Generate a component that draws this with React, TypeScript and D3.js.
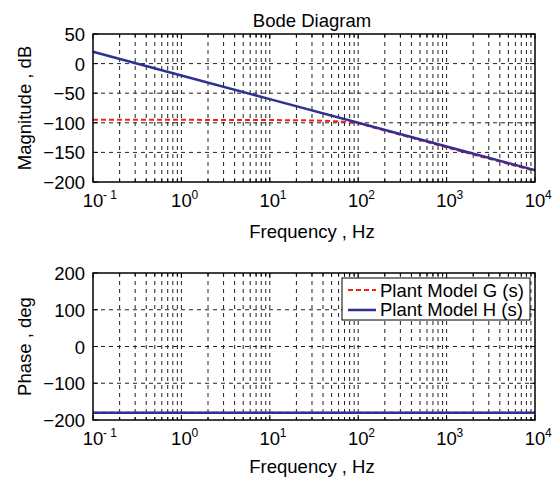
import React from 'react'
import * as d3 from 'd3'

// frequency samples (Hz)
const freqH = [0.1, 1, 10, 100, 1000, 10000]
const magH = [20, -20, -60, -100, -140, -180]
const freqG = [0.1, 1, 10, 30, 60, 100, 200, 1000, 10000]
const magG = [-95, -95, -95.3, -96, -97.5, -101, -113, -141.5, -181.5]
const phaseH = [-180, -180, -180, -180, -180, -180]
const phaseG = [-180, -180, -180, -180, -180, -180, -180, -180, -180]

const decades = [-1, 0, 1, 2, 3, 4]
const magTicks = [50, 0, -50, -100, -150, -200]
const phaseTicks = [200, 100, 0, -100, -200]
const legendLabels = ['Plant Model G (s)', 'Plant Model H (s)']

const FONT = 'Liberation Sans, Arial, sans-serif'
const FS = 18.5
const W = 554
const H = 478
const left = 93
const right = 535
const RED = '#ff1a1a'
const BLUE = '#2e3192'

function minorFreqs() {
  const out: number[] = []
  for (let d = -1; d < 4; d++) {
    for (let k = 2; k <= 9; k++) out.push(k * Math.pow(10, d))
  }
  return out
}

function Panel(props: {
  top: number
  bottom: number
  domain: [number, number]
  ticks: number[]
  ylabel: string
  gVals: number[]
  hVals: number[]
  xlabelGap: number
  title?: string
  legend?: boolean
}) {
  const { top, bottom, domain, ticks, ylabel, gVals, hVals, xlabelGap, title, legend } = props
  const x = d3.scaleLog().domain([0.1, 10000]).range([left, right])
  const y = d3.scaleLinear().domain(domain).range([bottom, top])
  const minors = minorFreqs()
  const lineG = d3.line<number>().x((d, i) => x(freqG[i])).y((d) => y(d))
  const lineH = d3.line<number>().x((d, i) => x(freqH[i])).y((d) => y(d))
  const dash = '4,4'
  return (
    <g>
      {title && (
        <text x={312} y={top - 7} textAnchor="middle" fontSize={FS} fontFamily={FONT}>
          {title}
        </text>
      )}
      <rect x={left} y={top} width={right - left} height={bottom - top} fill="white" />
      {/* grid */}
      {minors.concat(decades.slice(1, -1).map((d) => Math.pow(10, d))).map((f, i) => (
        <line key={'v' + i} x1={x(f)} x2={x(f)} y1={top} y2={bottom} stroke="#222" strokeWidth={1} strokeDasharray={dash} />
      ))}
      {ticks.slice(1, -1).map((t) => (
        <line key={'h' + t} x1={left} x2={right} y1={y(t)} y2={y(t)} stroke="#222" strokeWidth={1} strokeDasharray={dash} />
      ))}
      {/* ticks */}
      {decades.map((d) => (
        <g key={'t' + d}>
          <line x1={x(Math.pow(10, d))} x2={x(Math.pow(10, d))} y1={bottom} y2={bottom - 5} stroke="#000" />
          <line x1={x(Math.pow(10, d))} x2={x(Math.pow(10, d))} y1={top} y2={top + 5} stroke="#000" />
        </g>
      ))}
      {minors.map((f, i) => (
        <g key={'m' + i}>
          <line x1={x(f)} x2={x(f)} y1={bottom} y2={bottom - 3} stroke="#000" />
          <line x1={x(f)} x2={x(f)} y1={top} y2={top + 3} stroke="#000" />
        </g>
      ))}
      {ticks.map((t) => (
        <g key={'yt' + t}>
          <line x1={left} x2={left + 5} y1={y(t)} y2={y(t)} stroke="#000" />
          <line x1={right} x2={right - 5} y1={y(t)} y2={y(t)} stroke="#000" />
          <text x={left - 8} y={y(t) + 7} textAnchor="end" fontSize={FS} fontFamily={FONT}>
            {t < 0 ? '\u2212' + Math.abs(t) : t}
          </text>
        </g>
      ))}
      {decades.map((d) => (
        <g key={'xl' + d}>
          <text x={x(Math.pow(10, d))} y={bottom + 25} textAnchor="middle" fontSize={FS} fontFamily={FONT}>
            10
          </text>
          <text x={x(Math.pow(10, d)) + 10} y={bottom + 17} fontSize={12} fontFamily={FONT}>
            {d < 0 ? '- 1' : d}
          </text>
        </g>
      ))}
      {/* data */}
      <path d={lineG(gVals) || ''} fill="none" stroke={RED} strokeWidth={2} strokeDasharray="5,3" />
      <path d={lineH(hVals) || ''} fill="none" stroke={BLUE} strokeWidth={2.5} />
      <rect x={left} y={top} width={right - left} height={bottom - top} fill="none" stroke="#000" strokeWidth={1.5} />
      <text
        transform={`translate(31, ${(top + bottom) / 2}) rotate(-90)`}
        textAnchor="middle"
        fontSize={FS}
        fontFamily={FONT}
      >
        {ylabel}
      </text>
      <text x={312} y={bottom + xlabelGap} textAnchor="middle" fontSize={FS} fontFamily={FONT}>
        Frequency , Hz
      </text>
      {legend && (
        <g>
          <rect x={342} y={278} width={188} height={42} fill="white" stroke="#000" strokeWidth={1} />
          {legendLabels.map((l, i) => (
            <g key={l}>
              <line
                x1={348}
                x2={376}
                y1={290 + i * 20}
                y2={290 + i * 20}
                stroke={i === 0 ? RED : BLUE}
                strokeWidth={i === 0 ? 2 : 2.5}
                strokeDasharray={i === 0 ? '5,3' : undefined}
              />
              <text x={380} y={297 + i * 19} fontSize={FS} fontFamily={FONT}>
                {l}
              </text>
            </g>
          ))}
        </g>
      )}
    </g>
  )
}

export default function App() {
  return (
    <svg width={W} height={H} style={{ position: 'absolute', left: 0, top: 0, background: 'white' }}>
      <rect width={W} height={H} fill="white" />
      <Panel top={34} bottom={182} domain={[-200, 50]} ticks={magTicks} ylabel="Magnitude , dB" gVals={magG} hVals={magH} xlabelGap={56} title="Bode Diagram" />
      <Panel top={273} bottom={420} domain={[-200, 200]} ticks={phaseTicks} ylabel="Phase , deg" gVals={phaseG} hVals={phaseH} xlabelGap={53} legend />
    </svg>
  )
}
